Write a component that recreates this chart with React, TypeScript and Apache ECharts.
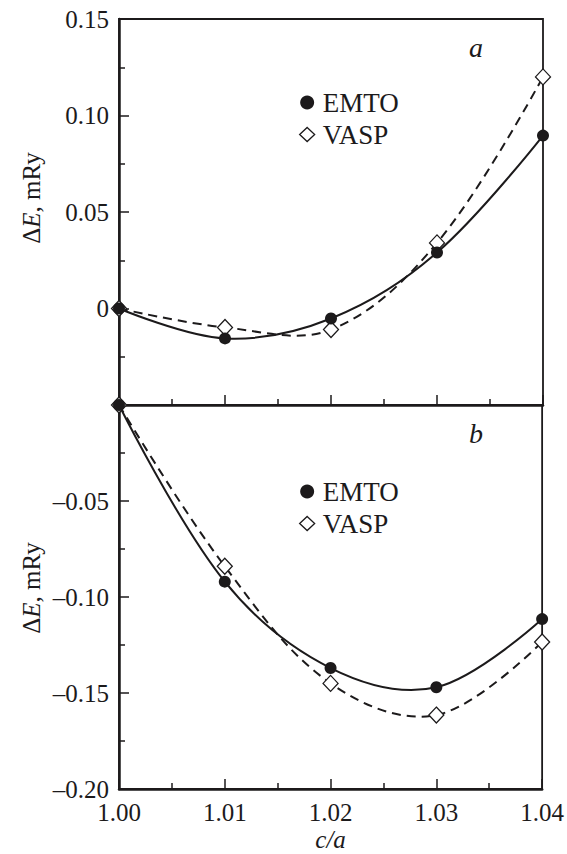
import React, { useEffect, useRef } from "react";
import * as echarts from "echarts";

const cOverA = [1.0, 1.01, 1.02, 1.03, 1.04];
const emtoA = [0, -0.0155, -0.0052, 0.029, 0.0896];
const vaspA = [0, -0.0098, -0.0109, 0.034, 0.12];
const emtoB = [0, -0.092, -0.137, -0.147, -0.1115];
const vaspB = [0, -0.084, -0.145, -0.1615, -0.1234];
const xTicks = ["1.00", "1.01", "1.02", "1.03", "1.04"];
const seriesNames = ["EMTO", "VASP"];
const panelLetters = ["a", "b"];

const FONT = "'Liberation Serif', 'Times New Roman', Times, serif";
const INK = "#1c1a1b";

const pairs = (ys: number[]) => cOverA.map((x, i) => [x, ys[i]]);
const fmtY = (v: number) => {
  if (Math.abs(v) < 1e-9) return "0";
  return (v < 0 ? "\u2013" : "") + Math.abs(v).toFixed(2);
};

export default function App() {
  const ref = useRef<HTMLDivElement>(null);
  useEffect(() => {
    document.body.style.margin = "0";
    if (!ref.current) return;
    const chart = echarts.init(ref.current, undefined, { renderer: "svg" });

    const gridL = 119;
    const gridW = 424;
    const axisCommon = {
      axisLine: { show: true, onZero: false, lineStyle: { color: INK, width: 2.5 } },
      axisTick: { show: true, inside: true, length: 10, lineStyle: { color: INK, width: 1.5 } },
      minorTick: { show: true, splitNumber: 2, length: 6, lineStyle: { color: INK, width: 1.5 } },
      splitLine: { show: false },
    };

    const curve = (name: string, xi: number, ys: number[], dashed: boolean) => ({
      name,
      type: "custom",
      xAxisIndex: xi,
      yAxisIndex: xi,
      data: pairs(ys),
      silent: true,
      clip: false,
      z: 2,
      renderItem: (params: any, api: any) => {
        if (params.dataIndex !== 0) return null;
        const pts = cOverA.map((x, i) => api.coord([x, ys[i]]));
        return {
          type: "polyline",
          shape: { points: pts, smooth: 0.36 },
          style: {
            fill: "none",
            stroke: INK,
            lineWidth: 2,
            lineDash: dashed ? [9, 6] : null,
          },
        };
      },
    });
    const scatter = (name: string, xi: number, ys: number[], vasp: boolean) => ({
      name,
      type: "scatter",
      xAxisIndex: xi,
      yAxisIndex: xi,
      data: pairs(ys),
      symbol: vasp ? "diamond" : "circle",
      symbolSize: vasp ? [15, 16] : 12,
      clip: false,
      itemStyle: vasp
        ? { color: "#ffffff", borderColor: INK, borderWidth: 1.3, opacity: 1 }
        : { color: INK, borderColor: INK, borderWidth: 0, opacity: 1 },
      z: vasp ? 5 : 6,
    });

    const legendAt = (top: number) => ({
      orient: "vertical",
      left: 294,
      top,
      itemWidth: 15,
      itemHeight: 14,
      itemGap: 5,
      data: [
        { name: seriesNames[0], icon: "circle", itemStyle: { color: INK, opacity: 1 } },
        { name: seriesNames[1], icon: "diamond", itemStyle: { color: "#ffffff", borderColor: INK, borderWidth: 1.3, opacity: 1 } },
      ],
      textStyle: { fontFamily: FONT, fontSize: 27, color: INK, lineHeight: 25, padding: [0, 0, 0, 3] },
      selectedMode: false,
    });

    const yLabel = {
      show: true,
      margin: 10,
      fontFamily: FONT,
      fontSize: 25,
      color: INK,
    };

    chart.setOption({
      animation: false,
      backgroundColor: "#ffffff",
      grid: [
        { left: gridL, top: 19, width: gridW, height: 386, show: true, borderColor: INK, borderWidth: 1.8 },
        { left: gridL, top: 405, width: gridW, height: 384, show: true, borderColor: INK, borderWidth: 1.8 },
      ],
      xAxis: [
        {
          type: "value",
          gridIndex: 0,
          min: 1.0,
          max: 1.04,
          interval: 0.01,
          ...axisCommon,
          axisLabel: { show: false },
        },
        {
          type: "value",
          gridIndex: 1,
          min: 1.0,
          max: 1.04,
          interval: 0.01,
          ...axisCommon,
          axisLabel: {
            ...yLabel,
            margin: 11,
            formatter: (v: number) => xTicks[Math.round((v - 1) * 100)] ?? v.toFixed(2),
          },
          name: "c/a",
          nameLocation: "middle",
          nameGap: 38,
          nameTextStyle: { fontFamily: FONT, fontSize: 25, fontStyle: "italic", color: INK },
        },
      ],
      yAxis: [
        {
          type: "value",
          gridIndex: 0,
          min: -0.05,
          max: 0.15,
          interval: 0.05,
          ...axisCommon,
          axisLabel: { ...yLabel, formatter: (v: number) => (v < -0.04 ? "" : fmtY(v)) },
        },
        {
          type: "value",
          gridIndex: 1,
          min: -0.2,
          max: 0,
          interval: 0.05,
          ...axisCommon,
          axisLabel: { ...yLabel, formatter: (v: number) => (v > -0.01 ? "" : fmtY(v)) },
        },
      ],
      legend: [legendAt(84), legendAt(473)],
      series: [
        curve("EMTO fit a", 0, emtoA, false),
        curve("VASP fit a", 0, vaspA, true),
        scatter(seriesNames[1], 0, vaspA, true),
        scatter(seriesNames[0], 0, emtoA, false),
        curve("EMTO fit b", 1, emtoB, false),
        curve("VASP fit b", 1, vaspB, true),
        scatter(seriesNames[1], 1, vaspB, true),
        scatter(seriesNames[0], 1, emtoB, false),
      ],
      graphic: [
        {
          type: "text",
          x: 476,
          y: 47,
          style: { text: panelLetters[0], fontFamily: FONT, fontSize: 28, fontStyle: "italic", fill: INK, align: "center", verticalAlign: "middle" },
        },
        {
          type: "text",
          x: 476,
          y: 433,
          style: { text: panelLetters[1], fontFamily: FONT, fontSize: 28, fontStyle: "italic", fill: INK, align: "center", verticalAlign: "middle" },
        },
        ...[198, 588].map((cy) => ({
          type: "text",
          x: 31,
          y: cy,
          rotation: Math.PI / 2,
          style: {
            text: "{n|\u0394}{i|E}{n|, mRy}",
            align: "center",
            verticalAlign: "middle",
            fill: INK,
            rich: {
              n: { fontFamily: FONT, fontSize: 25, fill: INK },
              i: { fontFamily: FONT, fontSize: 25, fontStyle: "italic", fill: INK },
            },
          },
        })),
      ],
    });
    return () => chart.dispose();
  }, []);
  return <div ref={ref} style={{ width: 567, height: 854 }} />;
}
